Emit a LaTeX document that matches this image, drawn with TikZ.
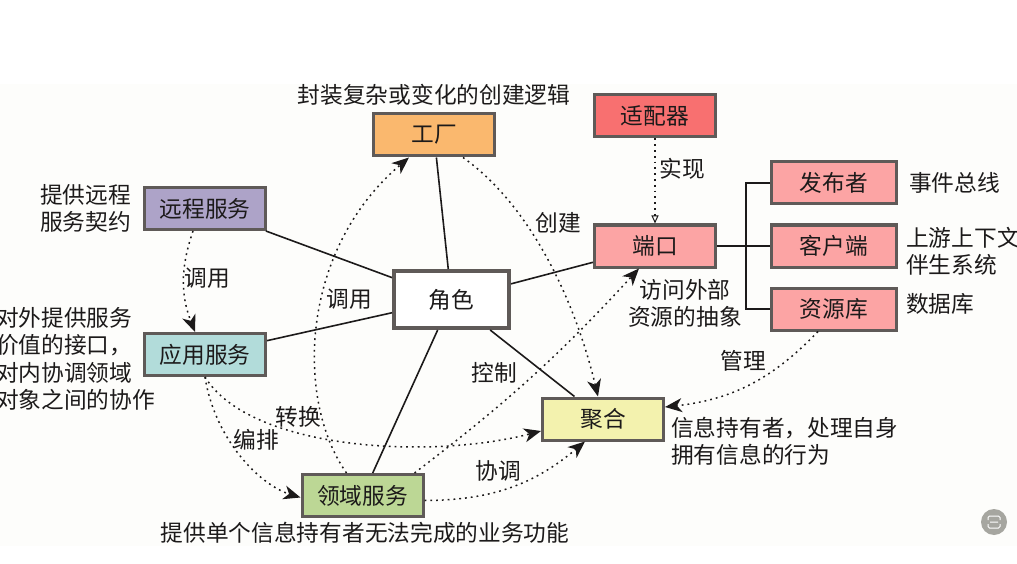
\documentclass[tikz,border=0pt]{standalone}
\usepackage{fontspec}
\setmainfont{Noto Sans CJK SC}
\usepackage{tikz}
\usetikzlibrary{positioning,arrows.meta}
\definecolor{ink}{HTML}{1C1A1A}
\definecolor{edgegray}{HTML}{5F5A58}
\definecolor{paper}{HTML}{FDFDFB}

\begin{document}
\begin{tikzpicture}[
    x=1pt, y=-1pt,
    >={Stealth[length=17pt,width=14pt,inset=5pt]},
    every node/.style={font=\fontsize{22.7}{27.3}\selectfont, text=ink},
    box/.style={draw=edgegray, line width=3pt, minimum width=121pt, minimum height=42pt, inner sep=0pt},
    note/.style={inner sep=0pt, align=left},
    link/.style={draw=ink, line width=1.6pt},
    flow/.style={draw=ink, ->, line width=1.5pt, dash pattern=on 1.8pt off 4pt}]

    \useasboundingbox (0,0) rectangle (1017,564);
    \fill[paper] (0,84) rectangle (1017,546);

    \node[box, line width=4pt, minimum width=115pt, minimum height=57pt, fill=white] (role) at (451.5,299.5) {角色};
    \node[box, fill={rgb,255:red,250;green,184;blue,110}] (factory) at (434,135) {工厂};
    \node[box, fill={rgb,255:red,173;green,163;blue,200}] (remote) at (205,208.5) {远程服务};
    \node[box, fill={rgb,255:red,178;green,220;blue,218}] (app) at (205,354.5) {应用服务};
    \node[box, fill={rgb,255:red,188;green,215;blue,149}] (domain) at (362.5,495.5) {领域服务};
    \node[box, fill={rgb,255:red,243;green,242;blue,174}] (aggregate) at (603,419) {聚合};
    \node[box, fill={rgb,255:red,248;green,112;blue,112}] (adapter) at (655,116) {适配器};
    \node[box, fill={rgb,255:red,252;green,164;blue,164}, below=85pt of adapter] (port) {端口};
    \node[box, fill={rgb,255:red,252;green,164;blue,164}, minimum width=125pt, right=53pt of port] (client) {客户端};
    \node[box, fill={rgb,255:red,252;green,164;blue,164}, minimum width=125pt, above=18pt of client] (publisher) {发布者};
    \node[box, fill={rgb,255:red,252;green,164;blue,164}, minimum width=125pt, below=18pt of client] (repo) {资源库};

    % notes beside the boxes
    \node[note, above=7pt of factory] (factorynote) {封装复杂或变化的创建逻辑};
    \node[note, left=12pt of remote] (remotenote) {提供远程\\服务契约};
    \node[note, anchor=west] (appnote) at (-4,359) {对外提供服务\\价值的接口，\\对内协调领域\\对象之间的协作};
    \node[note, below=4pt of domain, xshift=2.5pt] (domainnote) {提供单个信息持有者无法完成的业务功能};
    \node[note, anchor=west] (aggregatenote) at (671,441) {信息持有者，处理自身\\拥有信息的行为};
    \node[note, align=center] (portnote) at (685,303.5) {访问外部\\资源的抽象};
    \node[note, right=11pt of publisher] (publishernote) {事件总线};
    \node[note, right=8pt of client, yshift=-5pt] (clientnote) {上游上下文\\伴生系统};
    \node[note, right=8pt of repo, yshift=5pt] (reponote) {数据库};

    % labels on the connectors
    \node[note] (callone) at (207,278) {调用};
    \node[note] (calltwo) at (349,299) {调用};
    \node[note] (create) at (558,223) {创建};
    \node[note] (realize) at (682,169) {实现};
    \node[note] (manage) at (743,361) {管理};
    \node[note] (control) at (494,373) {控制};
    \node[note] (convert) at (298,417) {转换};
    \node[note] (arrange) at (256,440) {编排};
    \node[note] (coordinate) at (498,471) {协调};

    % solid links
    \draw[link] (factory) -- (role);
    \draw[link] (remote) -- (role);
    \draw[link] (app) -- (role);
    \draw[link] (domain) -- (role);
    \draw[link] (aggregate) -- (role);
    \draw[link] (port) -- (role);
    \coordinate (trunk) at (746,245);
    \draw[link] (port.east) -- (client.west);
    \draw[link] (publisher.west) -| (trunk) |- (repo.west);

    % dotted arrows
    \draw[flow] ([xshift=-12pt]remote.south) to[bend right=20] ([xshift=-10pt]app.north);
    \draw[flow] ([xshift=-16pt]domain.north) .. controls (295,400) and (300,250) .. ([xshift=-25pt]factory.south);
    \draw[flow] ([xshift=29pt]factory.south) .. controls (530,205) and (575,300) .. ([xshift=-5pt]aggregate.north);
    \draw[flow] ([xshift=52pt]domain.north) to[bend right=5] ([xshift=-16pt]port.south);
    \draw[flow] (app.south) .. controls (250,450) and (430,460) .. ([yshift=-12pt]aggregate.west);
    \draw[flow] (app.south) .. controls (215,440) and (260,485) .. ([yshift=-2pt]domain.west);
    \draw[flow] ([yshift=-5pt]domain.east) to[bend right=20] ([xshift=-18pt]aggregate.south);
    \draw[flow] ([xshift=-16pt]repo.south) to[bend left=20] ([yshift=12pt]aggregate.east);
    \draw[draw=ink, line width=1.4pt, dash pattern=on 1.8pt off 4pt, -{Triangle[open,length=8pt,width=7pt,line width=1pt]}] (adapter) -- (port);

    % scan badge
    \node[circle, fill={rgb,255:red,166;green,166;blue,160}, minimum size=26pt, inner sep=0pt] (badge) at (994,522) {};
    \draw[white, line width=1pt, rounded corners=1.5pt] (988,520) |- (1000,516) -- (1000,520)
        (988,524) |- (1000,528) -- (1000,524)
        (990,522) -- (998,522);
\end{tikzpicture}
\end{document}
